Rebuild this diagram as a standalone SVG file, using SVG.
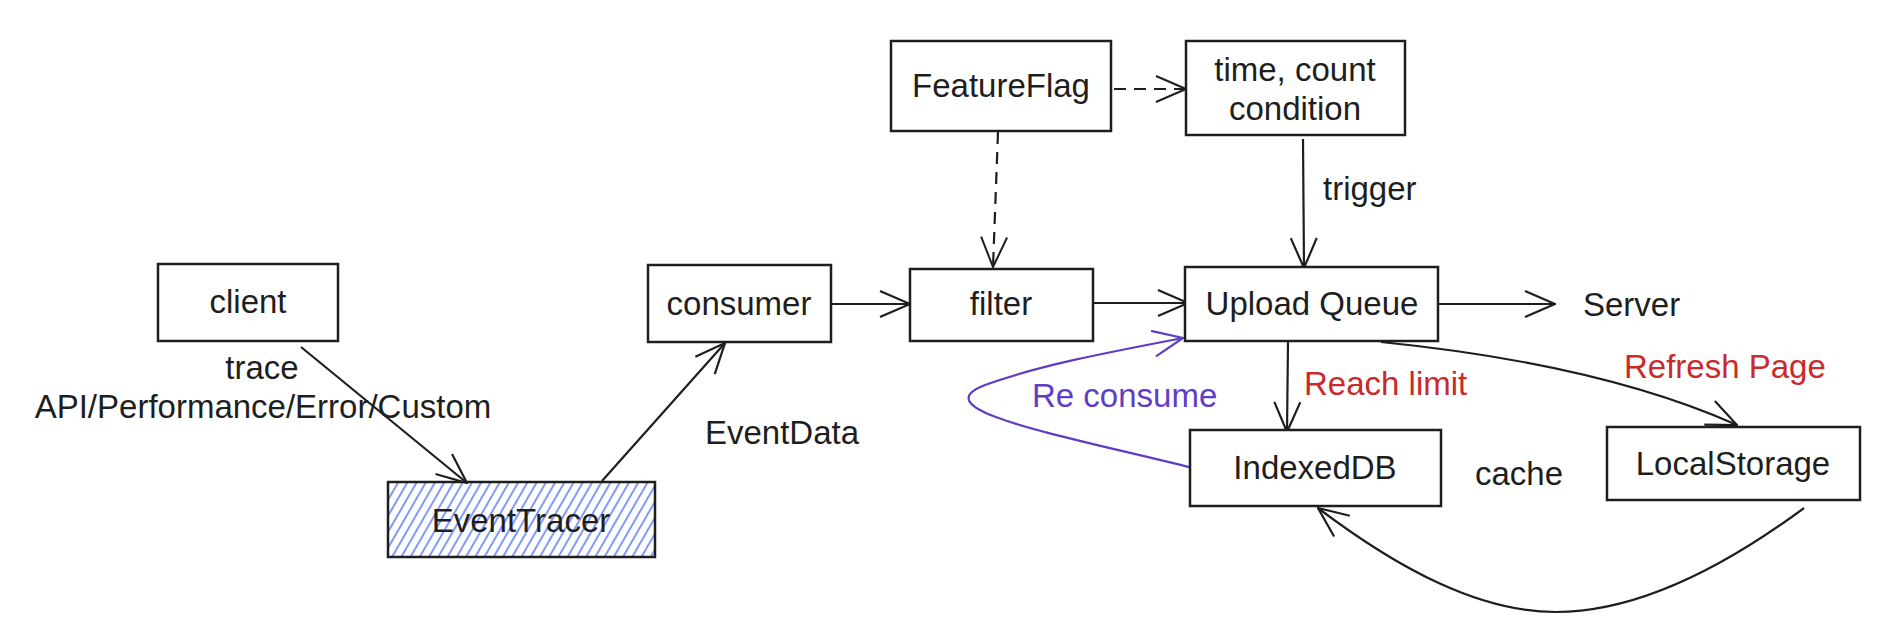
<svg xmlns="http://www.w3.org/2000/svg" width="1888" height="642" viewBox="0 0 1888 642">
<style>
  .box { fill: #ffffff; stroke: #1e1e1e; stroke-width: 2.5; }
  .t { font-family: "Liberation Sans", Arial, sans-serif; font-size: 33px; fill: #1e1e1e; }
  .mid { text-anchor: middle; }
  .red { fill: #c92a2a; }
  .purple { fill: #5f3dc4; }
  .line { fill: none; stroke: #1e1e1e; stroke-width: 2.2; marker-end: url(#arrow); }
  .dash { stroke-dasharray: 12 8; marker-end: url(#arrowDash); }
  .pline { fill: none; stroke: #5f3dc4; stroke-width: 2.2; marker-end: url(#arrowP); }
</style>
<defs>
  <marker id="arrow" viewBox="0 0 32 28" refX="31" refY="14" markerWidth="32" markerHeight="28" markerUnits="userSpaceOnUse" orient="auto">
    <path d="M1,1 L31,14 L1,27" fill="none" stroke="#1e1e1e" stroke-width="2.2"/>
  </marker>
  <marker id="arrowDash" viewBox="0 0 32 28" refX="31" refY="14" markerWidth="32" markerHeight="28" markerUnits="userSpaceOnUse" orient="auto">
    <path d="M1,1 L31,14 L1,27" fill="none" stroke="#1e1e1e" stroke-width="2"/>
  </marker>
  <marker id="arrowP" viewBox="0 0 32 28" refX="31" refY="14" markerWidth="32" markerHeight="28" markerUnits="userSpaceOnUse" orient="auto">
    <path d="M1,1 L31,14 L1,27" fill="none" stroke="#5f3dc4" stroke-width="2.2"/>
  </marker>
  <pattern id="hatch" width="8" height="12" patternUnits="userSpaceOnUse" patternTransform="rotate(30)">
    <line x1="2" y1="0" x2="2" y2="12" stroke="#4c6ef5" stroke-width="1.4"/>
  </pattern>
</defs>
<rect width="1888" height="642" fill="#ffffff"/>

<g id="connectors">
  <path class="line" d="M301,347 L467,483"/>
  <path class="line" d="M602,481 L725,343"/>
  <path class="line" d="M831,304 L910,304"/>
  <path class="line dash" d="M1114,89 L1186,89"/>
  <path class="line dash" d="M998,132 L993,267"/>
  <path class="line" d="M1303,139 L1304,268"/>
  <path class="line" d="M1093,303 L1188,303"/>
  <path class="line" d="M1439,304 L1555,304"/>
  <path class="line" d="M1288,342 L1287,432"/>
  <path class="line" d="M1381,342 Q1600,364 1737,425"/>
  <path class="line" d="M1804,508 C1700,585 1620,612 1556,612 C1480,612 1400,570 1318,508"/>
  <path class="pline" d="M1193,468 C1060,435 920,410 985,385 C1040,365 1110,352 1183,338"/>
</g>

<g id="client">
  <rect class="box" x="158" y="264" width="180" height="77"/>
  <text class="t mid" x="248" y="313">client</text>
</g>
<g id="consumer">
  <rect class="box" x="648" y="265" width="183" height="77"/>
  <text class="t mid" x="739" y="315">consumer</text>
</g>
<g id="filter">
  <rect class="box" x="910" y="269" width="183" height="72"/>
  <text class="t mid" x="1001" y="315">filter</text>
</g>
<g id="featureflag">
  <rect class="box" x="891" y="41" width="220" height="90"/>
  <text class="t mid" x="1001" y="97">FeatureFlag</text>
</g>
<g id="condition">
  <rect class="box" x="1186" y="41" width="219" height="94"/>
  <text class="t mid" x="1295" y="81">time, count</text>
  <text class="t mid" x="1295" y="120">condition</text>
</g>
<g id="eventtracer">
  <rect x="388" y="482" width="267" height="75" fill="url(#hatch)" stroke="#1e1e1e" stroke-width="2.5"/>
  <text class="t mid" x="521" y="532">EventTracer</text>
</g>
<g id="uploadqueue">
  <rect class="box" x="1185" y="267" width="253" height="74"/>
  <text class="t mid" x="1312" y="315">Upload Queue</text>
</g>
<g id="indexeddb">
  <rect class="box" x="1190" y="430" width="251" height="76"/>
  <text class="t mid" x="1315" y="479">IndexedDB</text>
</g>
<g id="localstorage">
  <rect class="box" x="1607" y="427" width="253" height="73"/>
  <text class="t mid" x="1733" y="475">LocalStorage</text>
</g>
<g id="server">
  <text class="t" x="1583" y="316">Server</text>
</g>

<g id="labels">
  <text class="t mid" x="262" y="379">trace</text>
  <text class="t mid" x="263" y="418">API/Performance/Error/Custom</text>
  <text class="t mid" x="782" y="444">EventData</text>
  <text class="t" x="1323" y="200">trigger</text>
  <text class="t red" x="1304" y="395">Reach limit</text>
  <text class="t red" x="1624" y="378">Refresh Page</text>
  <text class="t purple" x="1032" y="407">Re consume</text>
  <text class="t" x="1475" y="485">cache</text>
</g>
</svg>
